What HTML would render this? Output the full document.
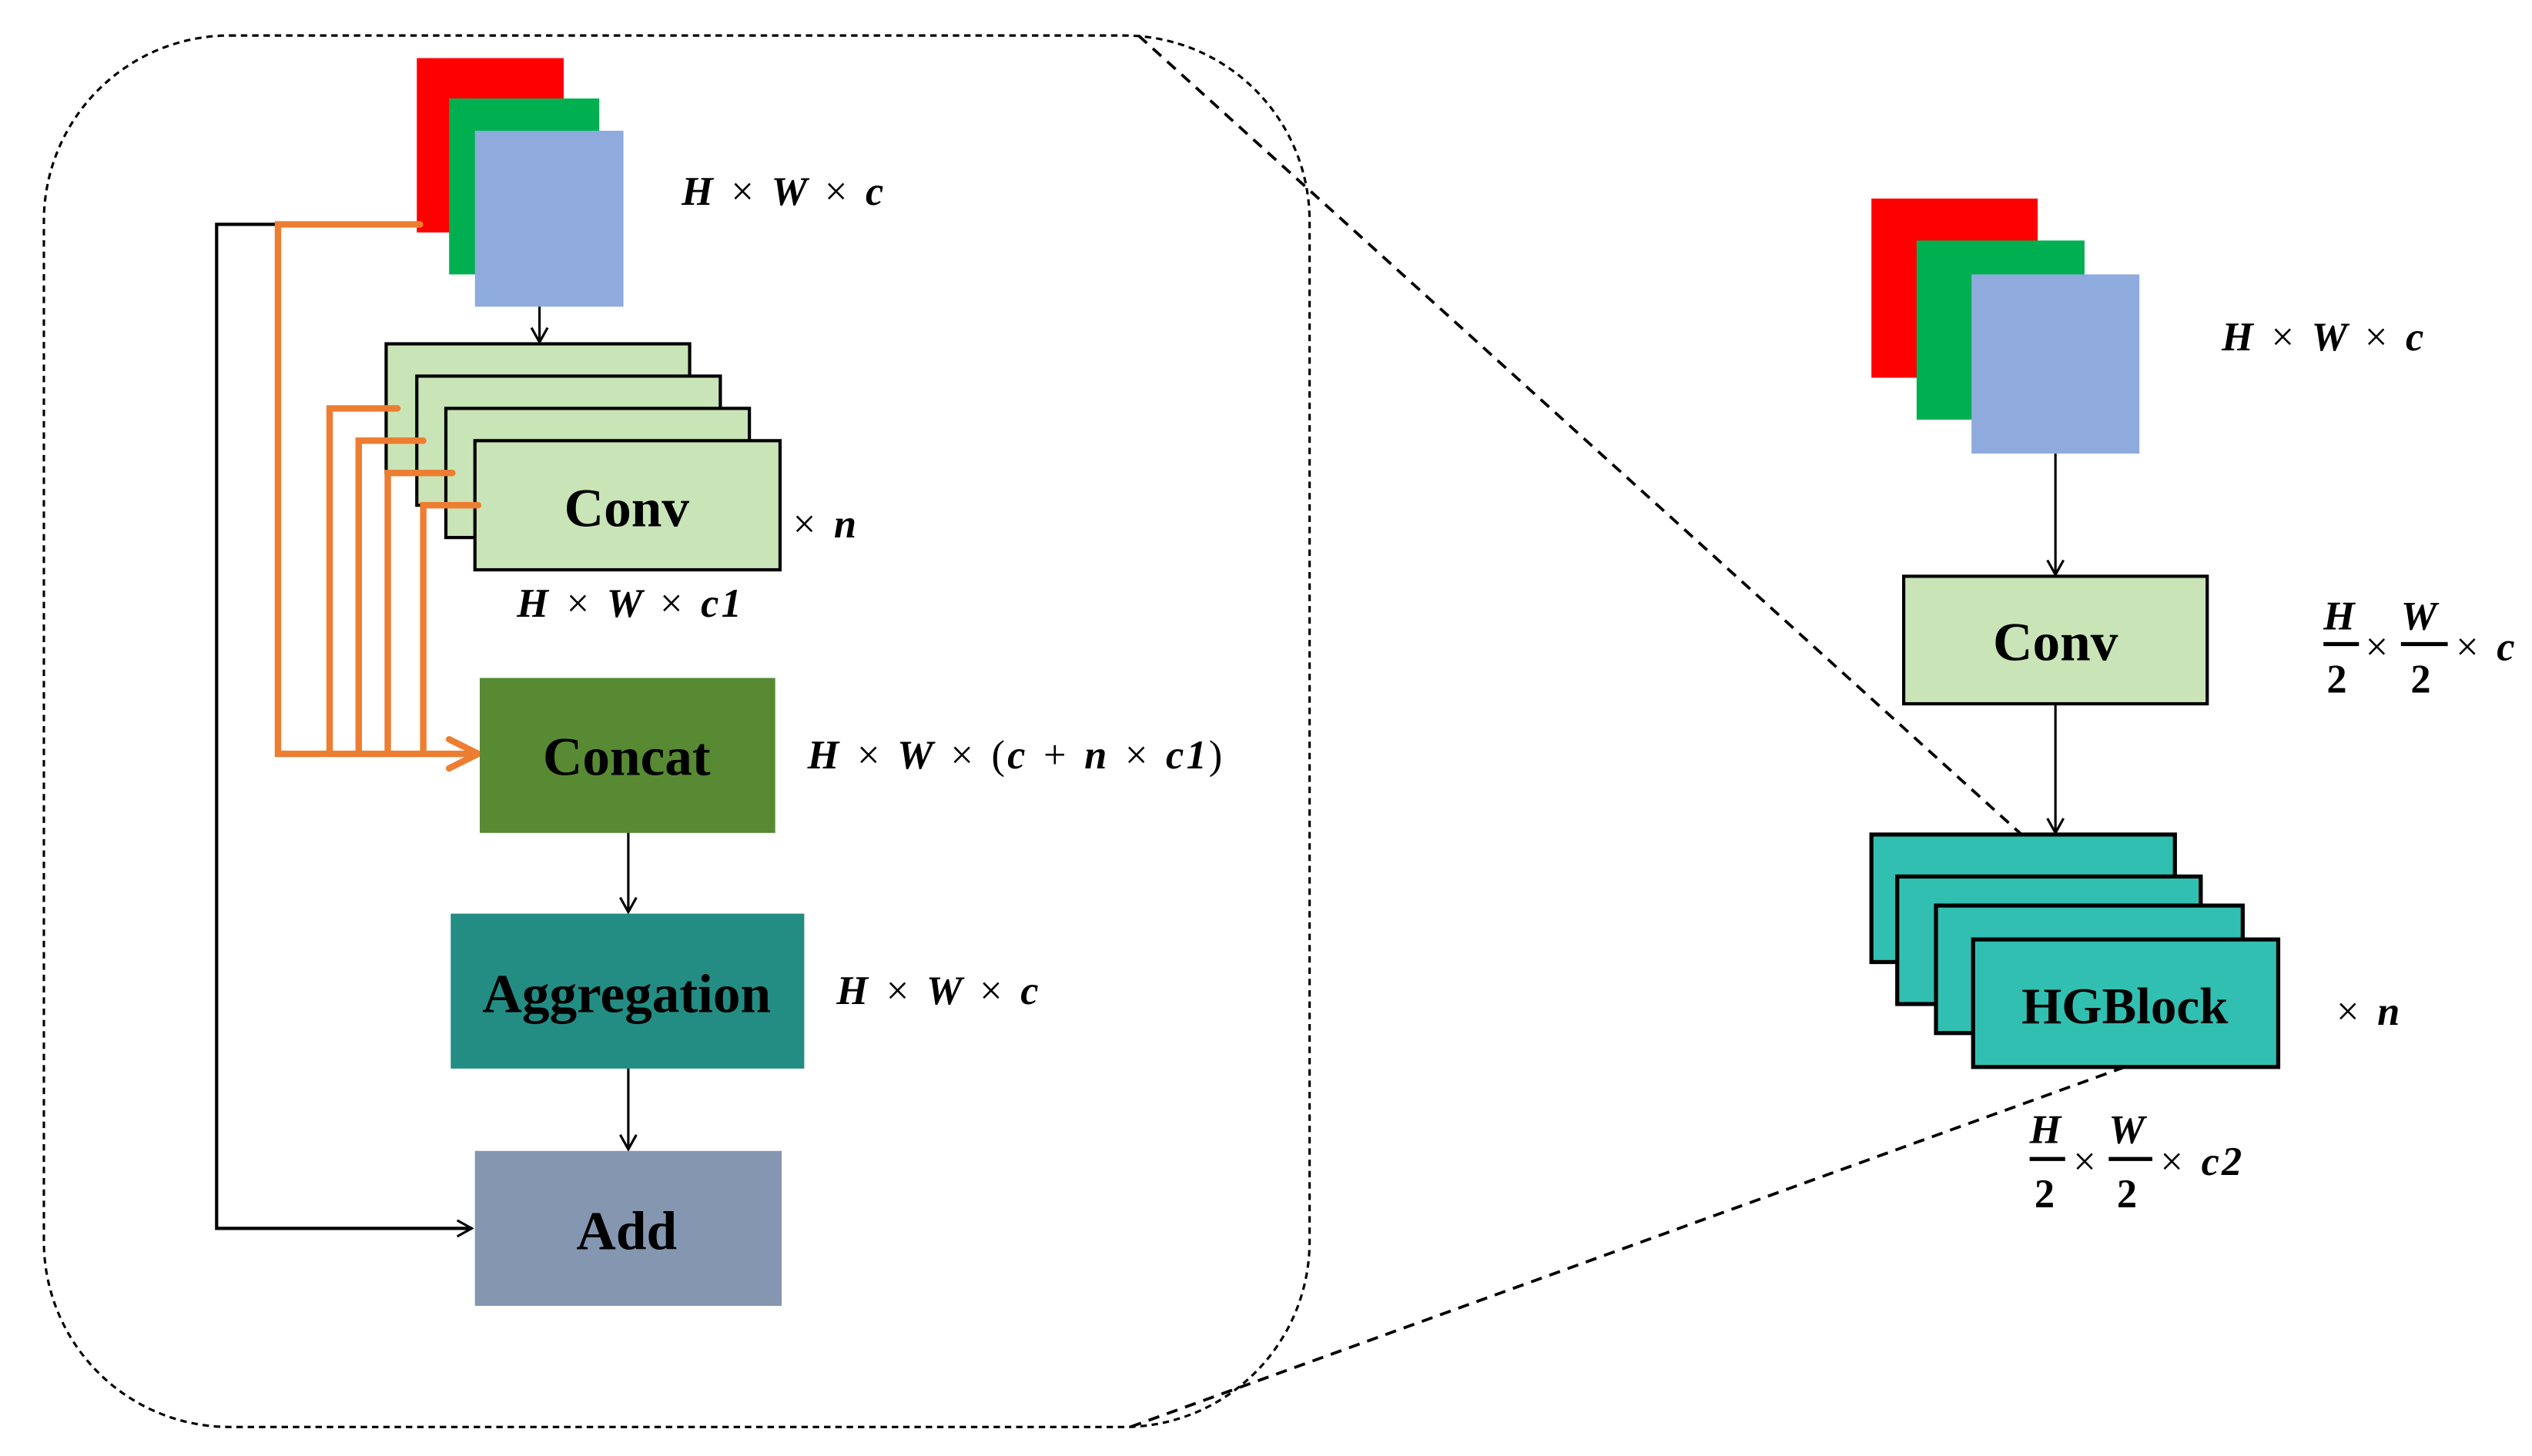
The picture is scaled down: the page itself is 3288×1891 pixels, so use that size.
<!DOCTYPE html>
<html><head><meta charset="utf-8"><style>html,body{margin:0;padding:0;background:#fff}svg{display:block}
.m{font-family:"Liberation Serif",serif;font-weight:bold;font-style:italic;font-size:25px;letter-spacing:1.5px;word-spacing:2px}
.x{font-style:normal;font-weight:normal}
.b{font-family:"Liberation Serif",serif;font-weight:bold;font-size:34px;text-anchor:middle}
</style></head><body>
<svg width="3288" height="1891" viewBox="0 0 1568 902" xmlns="http://www.w3.org/2000/svg">
<defs>
<marker id="a" markerWidth="12" markerHeight="12" refX="10" refY="6" orient="auto" markerUnits="userSpaceOnUse"><path d="M1,1 L10,6 L1,11" fill="none" stroke="#000" stroke-width="1.5"/></marker>
<marker id="o" markerWidth="26" markerHeight="26" refX="22" refY="13" orient="auto" markerUnits="userSpaceOnUse"><path d="M4,4 L22,13 L4,22" fill="none" stroke="#ed7d31" stroke-width="4" stroke-linecap="round"/></marker>
</defs>
<rect x="27" y="22" width="784" height="862" rx="115" fill="none" stroke="#000" stroke-width="1.5" stroke-dasharray="4,3"/>
<line x1="705" y1="22" x2="1252" y2="517" stroke="#000" stroke-width="1.8" stroke-dasharray="7,5"/>
<line x1="700" y1="884" x2="1316" y2="661" stroke="#000" stroke-width="1.8" stroke-dasharray="7,5"/>
<rect x="258" y="36" width="91" height="108" fill="#ff0000"/>
<rect x="278" y="61" width="93" height="109" fill="#00b050"/>
<rect x="294" y="81" width="92" height="109" fill="#8faadc"/>
<line x1="334" y1="190" x2="334" y2="212" stroke="#000" stroke-width="1.5" marker-end="url(#a)"/>
<g fill="#c9e4b6" stroke="#000" stroke-width="2">
<rect x="239" y="213" width="188" height="80"/>
<rect x="258" y="233" width="188" height="80"/>
<rect x="276" y="253" width="188" height="80"/>
<rect x="294" y="273" width="189" height="80"/>
</g>
<text class="b" x="388" y="326">Conv</text>
<polyline points="258,139 134,139 134,761 292,761" fill="none" stroke="#000" stroke-width="2" marker-end="url(#a)"/>
<g fill="none" stroke="#ed7d31" stroke-width="4" stroke-linecap="round">
<polyline points="260,139 172,139 172,467 296,467" marker-end="url(#o)"/>
<polyline points="246,253 204,253 204,467"/>
<polyline points="262,273 222,273 222,467"/>
<polyline points="280,293 240,293 240,467"/>
<polyline points="296,313 262,313 262,467"/>
</g>
<rect x="297" y="420" width="183" height="96" fill="#578a32"/>
<text class="b" x="388" y="480">Concat</text>
<line x1="389" y1="516" x2="389" y2="565" stroke="#000" stroke-width="1.5" marker-end="url(#a)"/>
<rect x="279" y="566" width="219" height="96" fill="#238d84"/>
<text class="b" x="388" y="627">Aggregation</text>
<line x1="389" y1="662" x2="389" y2="712" stroke="#000" stroke-width="1.5" marker-end="url(#a)"/>
<rect x="294" y="713" width="190" height="96" fill="#8496b0"/>
<text class="b" x="388" y="774">Add</text>
<text class="m" x="422" y="127">H <tspan class="x">×</tspan> W <tspan class="x">×</tspan> c</text>
<text class="m" x="491" y="333"><tspan class="x">×</tspan> n</text>
<text class="m" x="320" y="382">H <tspan class="x">×</tspan> W <tspan class="x">×</tspan> c1</text>
<text class="m" x="500" y="476">H <tspan class="x">×</tspan> W <tspan class="x">×</tspan> <tspan class="x">(</tspan>c <tspan class="x">+</tspan> n <tspan class="x">×</tspan> c1<tspan class="x">)</tspan></text>
<text class="m" x="518" y="622">H <tspan class="x">×</tspan> W <tspan class="x">×</tspan> c</text>
<rect x="1159" y="123" width="103" height="111" fill="#ff0000"/>
<rect x="1187" y="149" width="104" height="111" fill="#00b050"/>
<rect x="1221" y="170" width="104" height="111" fill="#8faadc"/>
<text class="m" x="1376" y="217">H <tspan class="x">×</tspan> W <tspan class="x">×</tspan> c</text>
<line x1="1273" y1="281" x2="1273" y2="356" stroke="#000" stroke-width="1.5" marker-end="url(#a)"/>
<rect x="1179" y="357" width="188" height="79" fill="#c9e4b6" stroke="#000" stroke-width="2"/>
<text class="b" x="1273" y="409">Conv</text>
<line x1="1273" y1="436" x2="1273" y2="516" stroke="#000" stroke-width="1.5" marker-end="url(#a)"/>
<g fill="#31bfb1" stroke="#000" stroke-width="2.5">
<rect x="1159" y="517" width="188" height="79"/>
<rect x="1175" y="543" width="188" height="79"/>
<rect x="1199" y="561" width="190" height="79"/>
<rect x="1222" y="582" width="189" height="79"/>
</g>
<text class="b" x="1316" y="634" style="font-size:32px">HGBlock</text>
<text class="m" x="1447" y="635"><tspan class="x">×</tspan> n</text>
<g class="m">
<text x="1439" y="390">H</text><line x1="1439" y1="399" x2="1461" y2="399" stroke="#000" stroke-width="2.5"/><text x="1441" y="429" style="font-style:normal">2</text>
<text x="1465" y="409" class="x">×</text>
<text x="1487" y="390">W</text><line x1="1487" y1="399" x2="1516" y2="399" stroke="#000" stroke-width="2.5"/><text x="1493" y="429" style="font-style:normal">2</text>
<text x="1521" y="409"><tspan class="x">×</tspan> c</text>
<text x="1257" y="708">H</text><line x1="1257" y1="718" x2="1279" y2="718" stroke="#000" stroke-width="2.5"/><text x="1260" y="748" style="font-style:normal">2</text>
<text x="1284" y="728" class="x">×</text>
<text x="1306" y="708">W</text><line x1="1306" y1="718" x2="1333" y2="718" stroke="#000" stroke-width="2.5"/><text x="1311" y="748" style="font-style:normal">2</text>
<text x="1338" y="728"><tspan class="x">×</tspan> c2</text>
</g>
</svg>
</body></html>
